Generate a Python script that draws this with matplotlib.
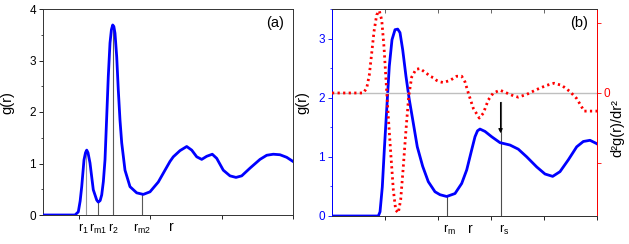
import matplotlib
matplotlib.use("Agg")
import matplotlib.pyplot as plt
from matplotlib.transforms import blended_transform_factory

plt.rcParams['font.family'] = ['Liberation Sans', 'DejaVu Sans']
plt.rcParams['mathtext.fontset'] = 'custom'
plt.rcParams['mathtext.rm'] = 'Liberation Sans'
plt.rcParams['mathtext.it'] = 'Liberation Sans'

# ---- panel (a) data: g(r) ----
xa = [0, 0.448, 0.494, 0.520, 0.542, 0.574, 0.595, 0.612, 0.630, 0.658, 0.704, 0.752,
      0.774, 0.800, 0.822, 0.845, 0.868, 0.892, 0.914, 0.938, 0.958, 0.976, 0.992, 1.008,
      1.032, 1.054, 1.078, 1.102, 1.148, 1.218, 1.312, 1.404, 1.498, 1.614, 1.708, 1.778,
      1.824, 1.918, 2.012, 2.082, 2.152, 2.222, 2.292, 2.370, 2.432, 2.524, 2.618, 2.702,
      2.782, 2.898, 3.038, 3.132, 3.224, 3.318, 3.412, 3.5]
ya = [0, 0, 0.06, 0.27, 0.55, 1.07, 1.21, 1.26, 1.21, 1.01, 0.49, 0.29,
      0.25, 0.28, 0.39, 0.65, 1.07, 1.91, 2.69, 3.34, 3.60, 3.69, 3.66, 3.53,
      3.07, 2.43, 1.84, 1.40, 0.87, 0.55, 0.43, 0.40, 0.45, 0.64, 0.87, 1.04,
      1.13, 1.25, 1.33, 1.26, 1.13, 1.08, 1.14, 1.18, 1.10, 0.87, 0.76, 0.73,
      0.76, 0.91, 1.08, 1.16, 1.18, 1.17, 1.12, 1.04]
a_mark_x = [0.602, 0.774, 0.985, 1.39]
a_mark_y = [1.26, 0.25, 3.69, 0.40]
a_mark_labels = [r'$\mathregular{r_1}$', r'$\mathregular{r_{m1}}$',
                 r'$\mathregular{r_2}$', r'$\mathregular{r_{m2}}$']
a_r_x = 1.80

# ---- panel (b) data: g(r) and second derivative ----
xb = [0, 0.874, 0.906, 0.949, 0.987, 1.032, 1.081, 1.132, 1.189, 1.240, 1.283, 1.334,
      1.396, 1.458, 1.534, 1.609, 1.711, 1.817, 1.943, 2.038, 2.164, 2.321, 2.447, 2.542,
      2.636, 2.698, 2.745, 2.792, 2.887, 3.013, 3.170, 3.358, 3.515, 3.674, 3.862, 4.019,
      4.164, 4.302, 4.459, 4.617, 4.742, 4.868, 4.981, 5.0]
yb = [0, 0, 0.07, 0.49, 1.12, 1.80, 2.53, 2.98, 3.15, 3.16, 3.10, 2.81,
      2.36, 1.97, 1.57, 1.17, 0.84, 0.58, 0.41, 0.36, 0.33, 0.38, 0.55, 0.78,
      1.12, 1.34, 1.44, 1.47, 1.43, 1.34, 1.24, 1.20, 1.13, 1.00, 0.83, 0.71,
      0.67, 0.75, 0.95, 1.17, 1.26, 1.28, 1.23, 1.22]
xr = [0, 0.591, 0.655, 0.704, 0.749, 0.792, 0.843, 0.892, 0.938, 0.981, 1.019, 1.062,
      1.108, 1.157, 1.202, 1.251, 1.296, 1.345, 1.396, 1.447, 1.504, 1.585, 1.660, 1.787,
      1.849, 1.911, 1.975, 2.038, 2.100, 2.226, 2.353, 2.447, 2.509, 2.572, 2.666, 2.779,
      2.855, 2.949, 3.043, 3.170, 3.296, 3.421, 3.515, 3.674, 3.862, 4.051, 4.189, 4.334,
      4.491, 4.617, 4.711, 4.755, 5.0]
yr = [0, 0, 0.07, 0.26, 0.57, 0.88, 1.12, 1.18, 1.05, 0.66, 0.19, -0.34,
      -0.86, -1.39, -1.68, -1.72, -1.53, -1.06, -0.53, -0.05, 0.23, 0.34, 0.35, 0.28,
      0.24, 0.22, 0.18, 0.16, 0.15, 0.18, 0.24, 0.24, 0.16, 0.00, -0.22, -0.36,
      -0.29, -0.10, 0.00, 0.04, 0.00, -0.04, -0.06, -0.02, 0.05, 0.11, 0.14, 0.11,
      0.02, -0.08, -0.20, -0.26, -0.26]
rm_x, rm_y = 2.164, 0.33
rs_x, rs_y = 3.18, 1.24
rs_arrow_top, rs_arrow_tip = 1.92, 1.40
b_r_x = 2.61

W, H = 629, 244
fig = plt.figure(figsize=(W / 100, H / 100), dpi=100)

def frac(l, t, r, b):
    return [l / W, 1 - b / H, (r - l) / W, (b - t) / H]

TICK = 8.5
LAB = 10.5
BLUE = '#0000ff'
RED = '#ff0000'

# ---------- panel (a) ----------
ax = fig.add_axes(frac(43, 9, 293, 215))
ax.plot(xa, ya, color=BLUE, lw=2.0, solid_joinstyle='round', zorder=3)
for i, (mx, my) in enumerate(zip(a_mark_x, a_mark_y)):
    ax.plot([mx, mx], [0, my], color='0.6' if i == 0 else '0.35', lw=0.8, zorder=2)
ax.set_xlim(0, 3.5)
ax.set_ylim(0, 4)
ax.set_xticks([0.5, 1.5, 2.5, 3.5])
ax.set_xticklabels([])
ax.set_yticks([0, 1, 2, 3, 4])
ax.set_yticks([0.5, 1.5, 2.5, 3.5], minor=True)
ax.tick_params(axis='both', which='major', direction='out', length=3, width=0.6,
               labelsize=TICK, pad=2)
ax.tick_params(axis='y', which='minor', direction='out', length=1.8, width=0.5)
for s in ax.spines.values():
    s.set_linewidth(0.7)
    s.set_color('0.2')
tr = blended_transform_factory(ax.transData, ax.transAxes)
offs = [-0.035, 0.0, 0.005, 0.0]
for mx, lab, o in zip(a_mark_x, a_mark_labels, offs):
    ax.text(mx + o, -0.08, lab, transform=tr, ha='center', va='baseline', fontsize=9)
ax.text(a_r_x, -0.08, 'r', transform=tr, ha='center', va='baseline', fontsize=10)
ax.text(0.965, 0.93, '(a)', transform=ax.transAxes, ha='right', va='center', fontsize=LAB)
fig.text(7 / W, 1 - 103 / H, 'g(r)', rotation=90, ha='center', va='center', fontsize=LAB)

# ---------- panel (b) ----------
bx = fig.add_axes(frac(332, 9, 597, 216))
bx.plot(xb, yb, color=BLUE, lw=2.0, solid_joinstyle='round', zorder=3)
bx.plot([rm_x, rm_x], [0, rm_y], color='0.3', lw=0.8, zorder=2)
bx.plot([rs_x, rs_x], [0, rs_arrow_top], color='0.3', lw=0.8, zorder=2)
bx.annotate('', xy=(rs_x, rs_arrow_tip), xytext=(rs_x, rs_arrow_top),
            arrowprops=dict(arrowstyle='-|>', color='k', lw=0.8, mutation_scale=6,
                            shrinkA=0, shrinkB=0))
bx.set_xlim(0, 5)
bx.set_ylim(0, 3.5)
bx.set_xticks([1, 2, 3, 4, 5])
bx.set_xticklabels([])
bx.set_yticks([0, 1, 2, 3])
bx.set_yticks([0.5, 1.5, 2.5, 3.5], minor=True)
bx.tick_params(axis='both', which='major', direction='out', length=3, width=0.6,
               labelsize=TICK, pad=2)
bx.tick_params(axis='y', which='both', colors=BLUE, labelcolor=BLUE)
bx.tick_params(axis='y', which='minor', direction='out', length=1.8, width=0.5)
for s in bx.spines.values():
    s.set_linewidth(0.7)
    s.set_color('0.2')
bx.spines['left'].set_color(BLUE)
top = bx.secondary_xaxis('top')
top.set_xticks([1, 2, 3, 4, 5])
top.tick_params(direction='in', length=3, width=0.6, labeltop=False, color='0.3')
top.spines['top'].set_linewidth(0.7)
top.spines['top'].set_color('0.2')

cx = bx.twinx()
cx.axhline(0, color='0.75', lw=1.0, zorder=1)
cx.plot(xr, yr, color=RED, lw=2.0, linestyle=(0, (0.8, 1.2)), dash_capstyle='butt', zorder=4)
cx.set_ylim(-1.765, 1.205)
cx.set_yticks([-1, 0, 1])
cx.set_yticklabels(['', '0', ''])
cx.tick_params(axis='y', direction='out', length=3, width=0.6, colors=RED,
               labelcolor=RED, labelsize=TICK, pad=1.5)
for k, s in cx.spines.items():
    s.set_linewidth(0.7)
    s.set_color('0.2')
cx.spines['right'].set_color(RED)
cx.spines['left'].set_color(BLUE)

trb = blended_transform_factory(bx.transData, bx.transAxes)
bx.text(rm_x + 0.05, -0.08, r'$\mathregular{r_m}$', transform=trb, ha='center',
        va='baseline', fontsize=9)
bx.text(b_r_x, -0.08, 'r', transform=trb, ha='center', va='baseline', fontsize=10)
bx.text(rs_x + 0.06, -0.08, r'$\mathregular{r_s}$', transform=trb, ha='center',
        va='baseline', fontsize=9)
bx.text(0.965, 0.93, '(b)', transform=bx.transAxes, ha='right', va='center', fontsize=LAB)
fig.text(302 / W, 1 - 103 / H, 'g(r)', rotation=90, ha='center', va='center', fontsize=LAB)
fig.text(617 / W, 1 - 128 / H, 'd\u00b2g(r)/dr\u00b2', rotation=90,
         ha='center', va='center', fontsize=LAB)

fig.savefig('out.png', dpi=100)
